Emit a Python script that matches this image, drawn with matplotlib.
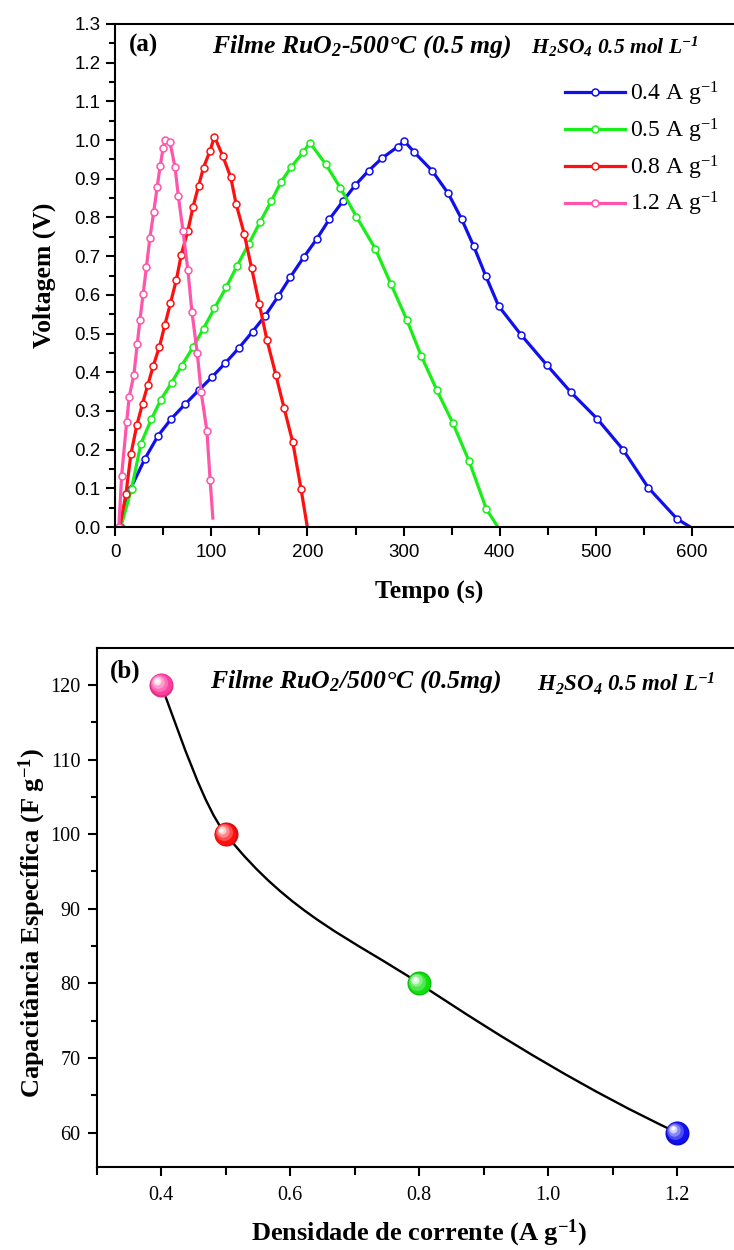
import numpy as np
import matplotlib
matplotlib.use("Agg")
import matplotlib.pyplot as plt
from matplotlib.path import Path
from matplotlib.patches import PathPatch
from matplotlib.ticker import MultipleLocator, FormatStrFormatter
from matplotlib.transforms import offset_copy
from matplotlib.colors import to_rgb

plt.rcParams["font.family"] = ["Liberation Serif", "DejaVu Serif"]
plt.rcParams["mathtext.fontset"] = "custom"
plt.rcParams["mathtext.rm"] = "Liberation Serif"
plt.rcParams["mathtext.it"] = "Liberation Serif:italic"
plt.rcParams["mathtext.bf"] = "Liberation Serif:bold"
BFIT = "\\mathbf"
if "mathtext.bfit" in plt.rcParams:
    plt.rcParams["mathtext.bfit"] = "Liberation Serif:bold:italic"
    BFIT = "\\mathbfit"

# ---------- data: (a) galvanostatic charge/discharge ----------
labels_a = ["0.4 A g$^{\\mathrm{-1}}$", "0.5 A g$^{\\mathrm{-1}}$",
            "0.8 A g$^{\\mathrm{-1}}$", "1.2 A g$^{\\mathrm{-1}}$"]
colors_a = ["#1010ee", "#18ee18", "#ff1010", "#ff55aa"]

t_04 = [5, 16.2, 31.0, 44.8, 58.6, 73.1, 86.9, 100.6, 114.4, 128.6, 143.0, 156.1,
        169.6, 182.0, 196.1, 209.9, 222.7, 237.2, 249.9, 263.7, 277.5, 294.0, 300.9,
        311.3, 329.9, 346.4, 360.3, 373.0, 385.4, 398.8, 422.3, 448.8, 474.0, 501.5,
        528.1, 554.2, 584.2, 598.0]
v_04 = [0.0, 0.099, 0.176, 0.236, 0.280, 0.318, 0.353, 0.387, 0.423, 0.462, 0.505, 0.546,
        0.596, 0.645, 0.697, 0.745, 0.795, 0.843, 0.884, 0.921, 0.953, 0.983, 0.997,
        0.968, 0.920, 0.862, 0.796, 0.725, 0.649, 0.571, 0.496, 0.419, 0.348, 0.279,
        0.200, 0.102, 0.021, 0.0]

t_05 = [6, 17.2, 26.9, 37.9, 47.6, 58.9, 69.3, 81.0, 92.0, 103.4, 115.5, 126.9, 138.9,
        150.6, 162.4, 172.4, 183.4, 195.4, 202.7, 219.2, 234.4, 251.0, 270.6, 287.0,
        303.4, 318.2, 334.7, 350.9, 368.1, 386.1, 398.0]
v_05 = [0.0, 0.099, 0.215, 0.279, 0.329, 0.373, 0.417, 0.464, 0.513, 0.565, 0.619, 0.675,
        0.731, 0.787, 0.842, 0.891, 0.931, 0.968, 0.993, 0.937, 0.876, 0.802, 0.719,
        0.627, 0.535, 0.443, 0.353, 0.270, 0.170, 0.046, 0.0]

t_08 = [5, 11.4, 16.5, 22.7, 28.6, 34.1, 39.6, 46.2, 51.7, 57.6, 63.8, 68.9, 75.8, 81.0,
        86.9, 92.0, 98.6, 103.4, 112.0, 120.3, 125.8, 134.4, 142.0, 149.9, 157.9, 167.2,
        175.8, 184.8, 193.4, 199.9]
v_08 = [0.0, 0.086, 0.188, 0.263, 0.319, 0.367, 0.415, 0.466, 0.521, 0.578, 0.639, 0.704,
        0.766, 0.826, 0.882, 0.929, 0.971, 1.009, 0.959, 0.904, 0.836, 0.757, 0.669,
        0.577, 0.484, 0.393, 0.307, 0.219, 0.098, 0.0]

t_12 = [4, 6.9, 12.1, 14.8, 19.6, 23.1, 25.9, 29.3, 32.7, 36.2, 40.3, 43.8, 46.9, 50.0,
        52.4, 57.2, 62.4, 65.8, 70.7, 75.8, 80.0, 85.5, 89.6, 95.5, 98.9, 101.7]
v_12 = [0.0, 0.133, 0.271, 0.337, 0.393, 0.472, 0.535, 0.603, 0.673, 0.746, 0.815, 0.878,
        0.932, 0.979, 1.0, 0.994, 0.930, 0.856, 0.765, 0.663, 0.555, 0.450, 0.348,
        0.249, 0.121, 0.023]

series_a = [(t_04, v_04), (t_05, v_05), (t_08, v_08), (t_12, v_12)]

# ---------- data: (b) specific capacitance ----------
dens_b = [0.4, 0.5, 0.8, 1.2]
cap_b = [120, 100, 80, 60]
colors_b = ["#ff3fa0", "#ff1010", "#10e010", "#1010f0"]

W, H = 734, 1250
fig = plt.figure(figsize=(W / 100, H / 100), dpi=100)


def fx(px):
    return px / W


def fy(py):
    return 1 - py / H


# ================= panel (a) =================
ax1 = fig.add_axes([fx(115), fy(527), 0.962 * 660 / W, 503 / H])
for (t, v), c, lab in zip(series_a, colors_a, labels_a):
    ax1.plot(t, v, color=c, lw=2.3, marker="o", ms=5, mfc="white", mec=c, mew=1.1,
             markevery=slice(0, len(t) - 1), label=lab)
ax1.set_xlim(0, 660)
ax1.set_ylim(0, 1.3)
ax1.xaxis.set_major_locator(MultipleLocator(100))
ax1.xaxis.set_minor_locator(MultipleLocator(50))
ax1.yaxis.set_major_locator(MultipleLocator(0.1))
ax1.yaxis.set_minor_locator(MultipleLocator(0.05))
ax1.yaxis.set_major_formatter(FormatStrFormatter("%.1f"))
ax1.tick_params(which="both", direction="out", width=1.5, top=False, right=False)
ax1.tick_params(which="major", length=6.5)
ax1.tick_params(which="minor", length=4)
ax1.tick_params(axis="x", which="minor", length=5.5)
ax1.tick_params(axis="x", pad=6)
ax1.tick_params(axis="y", pad=4)
for lbl in ax1.get_xticklabels() + ax1.get_yticklabels():
    lbl.set_family(["Liberation Sans", "DejaVu Sans"])
    lbl.set_fontsize(13.5)
for s in ax1.spines.values():
    s.set_linewidth(1.5)

ax1.set_xlabel("Tempo (s)", fontsize=18.5, fontweight="bold", va="center")
ax1.xaxis.set_label_coords(0.495, -0.131)
ax1.set_ylabel("Voltagem (V)", fontsize=18.5, fontweight="bold", va="center")
ax1.yaxis.set_label_coords(-0.112, 0.5)

leg = ax1.legend(loc="upper right", bbox_to_anchor=(fx(719), fy(80)),
                 bbox_transform=fig.transFigure, frameon=False, fontsize=17,
                 handlelength=2.55, handletextpad=0.2, labelspacing=0.36,
                 borderaxespad=0, numpoints=1, borderpad=0)

fig.text(fx(129), fy(45), "(a)", fontsize=18, fontweight="bold", va="center")
fig.text(fx(212), fy(47), "Filme RuO$_" + BFIT + "{2}$-500°C (0.5 mg)", fontsize=18.5,
         fontweight="bold", style="italic", va="center")
fig.text(fx(531), fy(47), "H$_" + BFIT + "{2}$SO$_" + BFIT + "{4}$ 0.5 mol L$^"
         + BFIT + "{-1}$", fontsize=15.5, fontweight="bold", style="italic", va="center")

# ================= panel (b) =================
ax2 = fig.add_axes([fx(96.7), fy(1167), 645 * 1.03 / W, 518.7 / H])
ax2.set_xlim(0.3, 1.33)
ax2.set_ylim(55.4, 124.9)

# smooth monotone curve (PCHIP tangents -> cubic Bezier segments)
xb = np.array(dens_b, float)
yb = np.array(cap_b, float)
h = np.diff(xb)
dl = np.diff(yb) / h
tan = np.zeros_like(xb)
for i in range(1, len(xb) - 1):
    w1 = 2 * h[i] + h[i - 1]
    w2 = h[i] + 2 * h[i - 1]
    tan[i] = (w1 + w2) / (w1 / dl[i - 1] + w2 / dl[i])
tan[0] = ((2 * h[0] + h[1]) * dl[0] - h[0] * dl[1]) / (h[0] + h[1])
tan[-1] = ((2 * h[-1] + h[-2]) * dl[-1] - h[-1] * dl[-2]) / (h[-1] + h[-2])
verts = [(xb[0], yb[0])]
codes = [Path.MOVETO]
for i in range(len(xb) - 1):
    verts += [(xb[i] + h[i] / 3, yb[i] + tan[i] * h[i] / 3),
              (xb[i + 1] - h[i] / 3, yb[i + 1] - tan[i + 1] * h[i] / 3),
              (xb[i + 1], yb[i + 1])]
    codes += [Path.CURVE4] * 3
ax2.add_patch(PathPatch(Path(verts, codes), fill=False, lw=1.7, color="black", zorder=2))

# shiny spheres
for x, y, c in zip(dens_b, cap_b, colors_b):
    base = np.array(to_rgb(c))
    ax2.scatter([x], [y], s=300, color=base * 0.85, zorder=3, linewidths=0)
    layers = [(235, 0.0, -0.4, 0.4), (150, 0.25, -1.3, 1.3), (80, 0.5, -2.1, 2.1),
              (32, 0.8, -2.8, 2.8), (9, 0.97, -3.1, 3.1)]
    for size, mix, dx, dy in layers:
        col = base * (1 - mix) + mix
        tr = offset_copy(ax2.transData, fig=fig, x=dx, y=dy, units="points")
        ax2.scatter([x], [y], s=size, color=col, zorder=4, linewidths=0, transform=tr)

ax2.xaxis.set_major_locator(MultipleLocator(0.2))
ax2.xaxis.set_minor_locator(MultipleLocator(0.1))
ax2.yaxis.set_major_locator(MultipleLocator(10))
ax2.yaxis.set_minor_locator(MultipleLocator(5))
ax2.xaxis.set_major_formatter(FormatStrFormatter("%.1f"))
ax2.tick_params(which="both", direction="out", width=1.5, top=False, right=False,
                labelsize=14.5)
ax2.tick_params(which="major", length=6.5)
ax2.tick_params(which="minor", length=4)
ax2.tick_params(axis="x", which="minor", length=5.5)
ax2.tick_params(axis="x", pad=7)
ax2.tick_params(axis="y", pad=5)
for s in ax2.spines.values():
    s.set_linewidth(1.5)

ax2.set_xlabel("Densidade de corrente (A g$^\\mathbf{-1}$)", fontsize=19,
               fontweight="bold", va="center")
ax2.xaxis.set_label_coords(0.486, -0.127)
ax2.set_ylabel("Capacitância Específica (F g$^\\mathbf{-1}$)", fontsize=19,
               fontweight="bold", va="center")
ax2.yaxis.set_label_coords(-0.097, 0.47)

fig.text(fx(110), fy(671), "(b)", fontsize=18, fontweight="bold", va="center")
fig.text(fx(210), fy(682), "Filme RuO$_" + BFIT + "{2}$/500°C (0.5mg)", fontsize=18.5,
         fontweight="bold", style="italic", va="center")
fig.text(fx(537), fy(684), "H$_" + BFIT + "{2}$SO$_" + BFIT + "{4}$ 0.5 mol L$^"
         + BFIT + "{-1}$", fontsize=16.5, fontweight="bold", style="italic", va="center")

fig.savefig("out.png", dpi=100)
